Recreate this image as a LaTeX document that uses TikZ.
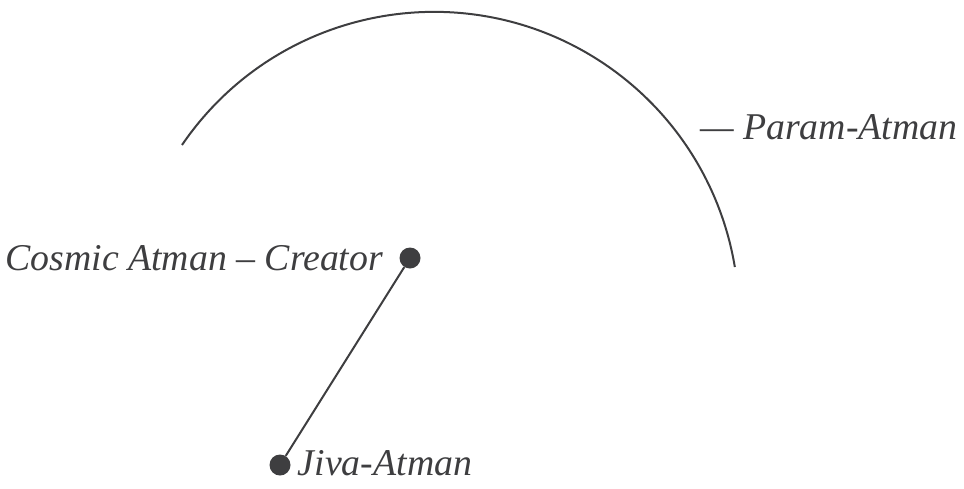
\documentclass[tikz,border=0pt]{standalone}
\usepackage{fontspec}
\setmainfont{Liberation Serif}
\usetikzlibrary{positioning}
\definecolor{ink}{RGB}{62,62,64}

\begin{document}
\begin{tikzpicture}[
    x=1pt, y=-1pt,
    dot/.style={circle, fill=ink, minimum size=21pt, inner sep=0pt},
    atman/.style={inner sep=0pt, text=ink, font=\fontsize{37.8}{41}\selectfont\itshape},
    wire/.style={draw=ink, line width=2pt}
]
\useasboundingbox (0,0) rectangle (964,488);
% the arc of the Param-Atman
\draw[wire] (182,145) arc[start angle=-145.7, end angle=-9.4, radius=305];
\node[dot] (creator) at (410,258) {};
\node[dot] (jiva) at (280,465) {};
\node[atman, left=16pt of creator] (creatorname) {Cosmic Atman -- Creator};
\node[atman, right=7pt of jiva, yshift=1.5pt] (jivaname) {Jiva-Atman};
\node[atman, anchor=west] (param) at (700,127) {--- Param-Atman};
\draw[wire] (creator) -- (jiva);
\end{tikzpicture}
\end{document}
